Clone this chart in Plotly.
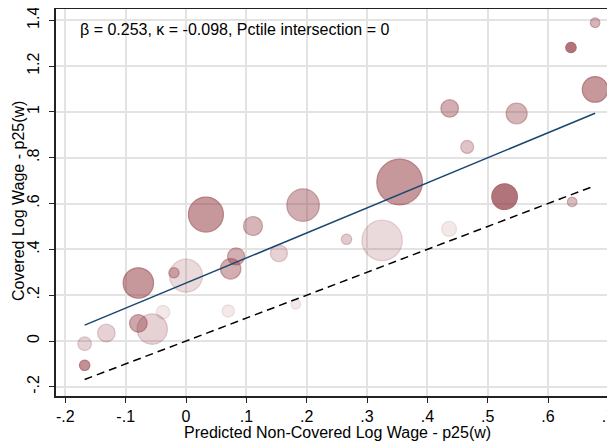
import plotly.graph_objects as go

# ---- data ----
x_pred = [-0.168, -0.168, -0.132, -0.056, -0.079, -0.038, -0.079, 0.000, -0.020, 0.033,
          0.070, 0.074, 0.083, 0.111, 0.154, 0.194, 0.182, 0.266, 0.325, 0.354,
          0.437, 0.466, 0.548, 0.528, 0.638, 0.678, 0.678, 0.640, 0.436]
y_cov = [-0.106, -0.012, 0.035, 0.052, 0.077, 0.126, 0.253, 0.285, 0.298, 0.552,
         0.131, 0.315, 0.369, 0.502, 0.383, 0.593, 0.160, 0.444, 0.439, 0.694,
         1.015, 0.847, 0.993, 0.630, 1.281, 1.389, 1.098, 0.607, 0.489]
bubble_diam = [11.4, 14.6, 18.6, 31.4, 18.6, 14.6, 31.4, 34, 11.4, 36,
               13.4, 21.4, 18, 20, 18, 33.4, 10.6, 11.4, 41.4, 46.6,
               18.6, 14, 22, 26.6, 11.4, 10.6, 26.6, 10.6, 16]
shade = [0.75, 0.3, 0.3, 0.3, 0.6, 0.15, 0.7, 0.25, 0.5, 0.7,
         0.15, 0.55, 0.55, 0.5, 0.3, 0.55, 0.15, 0.35, 0.25, 0.7,
         0.55, 0.4, 0.5, 0.95, 0.95, 0.5, 0.7, 0.45, 0.15]

reg_intercept = 0.253
reg_slope = 1.093
label_text = "β = 0.253, κ = -0.098, Pctile intersection = 0"
x_title = "Predicted Non-Covered Log Wage - p25(w)"
y_title = "Covered Log Wage - p25(w)"

x_ticks = [-0.2, -0.1, 0, 0.1, 0.2, 0.3, 0.4, 0.5, 0.6, 0.7]
x_ticktext = ["-.2", "-.1", "0", ".1", ".2", ".3", ".4", ".5", ".6", ".7"]
y_ticks = [-0.2, 0, 0.2, 0.4, 0.6, 0.8, 1.0, 1.2, 1.4]
y_ticktext = ["-.2", "0", ".2", ".4", ".6", ".8", "1", "1.2", "1.4"]

base = (139, 47, 56)
fill = [f"rgba({base[0]},{base[1]},{base[2]},{a})" for a in shade]
edge = [f"rgba({base[0]},{base[1]},{base[2]},{min(1.0, a * 1.15)})" for a in shade]

xmin, xmax = min(x_pred), max(x_pred)

fig = go.Figure()
fig.add_trace(go.Scatter(
    x=x_pred, y=y_cov, mode="markers",
    marker=dict(size=[d - 1 for d in bubble_diam], color=fill,
                line=dict(color=edge, width=1.2)),
    hoverinfo="skip", showlegend=False))

# 45-degree line
fig.add_trace(go.Scatter(
    x=[xmin, xmax], y=[xmin, xmax], mode="lines",
    line=dict(color="black", width=1.5, dash="8px,5px"),
    hoverinfo="skip", showlegend=False))

# fitted line
fig.add_trace(go.Scatter(
    x=[xmin, xmax], y=[reg_intercept + reg_slope * xmin, reg_intercept + reg_slope * xmax],
    mode="lines", line=dict(color="#1a476f", width=1.5),
    hoverinfo="skip", showlegend=False))

# figure is placed at an 8px page offset, so sizes/margins compensate for it
W, H = 607, 435
ML, MT, MB = 48, 1, 47
PW, PH = W - ML, H - MT - MB

def px_x(px):
    return (px - 8 - ML) / PW

def px_y(py):
    return (H - MB - (py - 8)) / PH

shapes = [
    dict(type="rect", xref="paper", yref="paper", x0=px_x(57), x1=px_x(417),
         y0=px_y(45), y1=px_y(9.5),
         fillcolor="rgba(255,255,255,0.85)", line=dict(width=0), layer="between"),
    dict(type="line", xref="x", yref="paper", x0=0, x1=0, y0=0, y1=1,
         line=dict(color="#8c8c8c", width=1.5, dash="7px,4px"), layer="between"),
    dict(type="line", xref="paper", yref="y", x0=0, x1=1, y0=0, y1=0,
         line=dict(color="#8c8c8c", width=1.5, dash="7px,4px"), layer="between"),
]

fig.update_layout(
    width=W, height=H,
    margin=dict(l=ML, r=0, t=MT, b=MB),
    paper_bgcolor="white", plot_bgcolor="white",
    font=dict(family="Liberation Sans, Arial, sans-serif", size=16, color="black"),
    shapes=shapes,
    annotations=[
        dict(text=label_text, xref="paper", yref="paper", x=px_x(78), y=px_y(29),
             xanchor="left", yanchor="middle", showarrow=False,
             font=dict(size=16, color="black")),
        dict(text=x_title, xref="paper", yref="paper", x=px_x(337.5), y=px_y(432),
             xanchor="center", yanchor="middle", showarrow=False,
             font=dict(size=16, color="black")),
        dict(text=y_title, xref="paper", yref="paper", x=px_x(18.5), y=px_y(201.5),
             xanchor="center", yanchor="middle", showarrow=False, textangle=-90,
             font=dict(size=16, color="black")),
    ],
)
fig.update_xaxes(
    range=[-0.2155, 0.711], tickvals=x_ticks, ticktext=x_ticktext,
    showgrid=True, gridcolor="#e3e3e3", gridwidth=1.5, zeroline=False,
    showline=True, linecolor="#222", linewidth=1.5, mirror=True,
    ticks="outside", ticklen=5, tickcolor="#222", ticklabeloverflow="allow",
    automargin=False)
fig.update_yaxes(
    range=[-0.24, 1.449], tickvals=y_ticks, ticktext=y_ticktext, tickangle=-90,
    showgrid=True, gridcolor="#e3e3e3", gridwidth=1.5, zeroline=False,
    showline=True, linecolor="#222", linewidth=1.5,
    ticks="outside", ticklen=5, tickcolor="#222", ticklabeloverflow="allow",
    ticklabelstandoff=4,
    automargin=False)

fig.write_html("out.html")
